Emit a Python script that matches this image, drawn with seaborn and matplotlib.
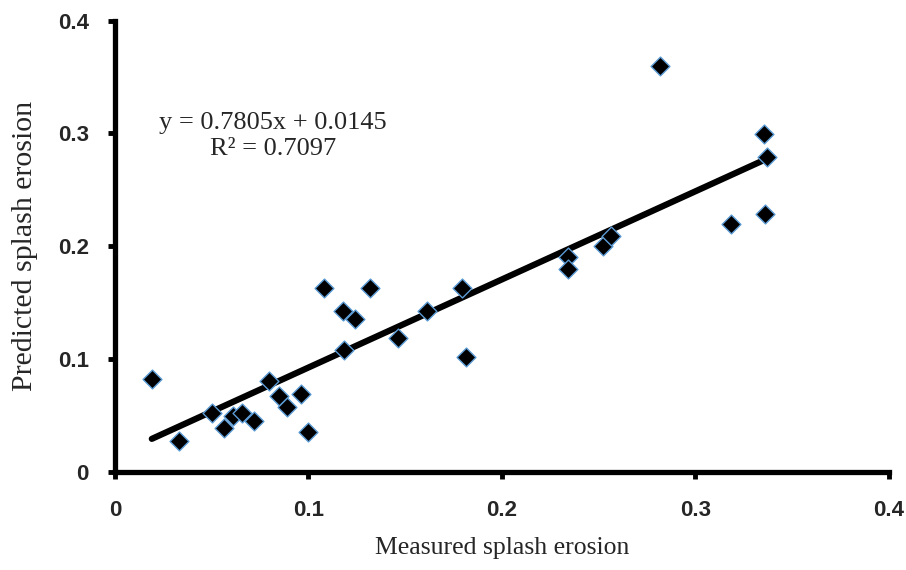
import matplotlib
matplotlib.use("Agg")
import matplotlib.pyplot as plt
import seaborn as sns
import numpy as np
import pandas as pd

measured = [0.019, 0.033, 0.050, 0.0565, 0.061, 0.0657, 0.072, 0.0794, 0.085, 0.0889,
            0.0963, 0.0995, 0.1078, 0.1178, 0.1319, 0.1238, 0.1181, 0.1465, 0.1612, 0.1796,
            0.1815, 0.2343, 0.2343, 0.2524, 0.2563, 0.2816, 0.3183, 0.3353, 0.337, 0.3362]
predicted = [0.082, 0.027, 0.052, 0.039, 0.050, 0.052, 0.045, 0.0805, 0.0675, 0.058,
             0.069, 0.0357, 0.1626, 0.1425, 0.1626, 0.1354, 0.108, 0.119, 0.1425, 0.1626,
             0.1018, 0.1905, 0.180, 0.2003, 0.2088, 0.360, 0.2195, 0.2997, 0.279, 0.229]
slope = 0.7805
intercept = 0.0145
r2 = 0.7097
ticks = [0, 0.1, 0.2, 0.3, 0.4]
tick_labels = ["0", "0.1", "0.2", "0.3", "0.4"]

sns.set_theme(style="white")
plt.rcParams['font.family'] = ['Liberation Serif', 'DejaVu Serif']

df = pd.DataFrame({"measured": measured, "predicted": predicted})
xs = np.array([min(measured), max(measured)])
line_df = pd.DataFrame({"x": xs, "y": slope * xs + intercept})

fig = plt.figure(figsize=(9.06, 5.70), dpi=100)
ax = fig.add_axes([0.127, 0.172, 0.854, 0.792])

sns.lineplot(data=line_df, x="x", y="y", ax=ax, color="black", linewidth=4.5, zorder=2)
sns.scatterplot(data=df, x="measured", y="predicted", ax=ax, marker="D", s=92,
                color="black", edgecolor="#5b9bd5", linewidth=1.0, zorder=3)

ax.set_xlim(0, 0.4)
ax.set_ylim(0, 0.4)
ax.set_xticks(ticks)
ax.set_yticks(ticks)
ax.set_xticklabels(tick_labels, fontfamily="Liberation Sans", fontweight="bold", fontsize=16)
ax.set_yticklabels(tick_labels, fontfamily="Liberation Sans", fontweight="bold", fontsize=16)
ax.tick_params(axis="both", direction="out", length=5, width=3.5, color="black",
               bottom=True, left=True)
ax.tick_params(axis="x", pad=15)
ax.tick_params(axis="y", pad=14)

for side in ["top", "right"]:
    ax.spines[side].set_visible(False)
for side in ["left", "bottom"]:
    ax.spines[side].set_visible(True)
    ax.spines[side].set_color("black")
    ax.spines[side].set_linewidth(3.8)

ax.set_xlabel("Measured splash erosion", fontsize=18.5, labelpad=12)
ax.set_ylabel("Predicted splash erosion", fontsize=21.5, labelpad=14)

ax.text(0.0816, 0.298, f"y = {slope}x + {intercept}\nR² = {r2}", fontsize=19,
        ha="center", va="center", linespacing=1.25, transform=ax.transData)

fig.savefig("out.png", dpi=100)
